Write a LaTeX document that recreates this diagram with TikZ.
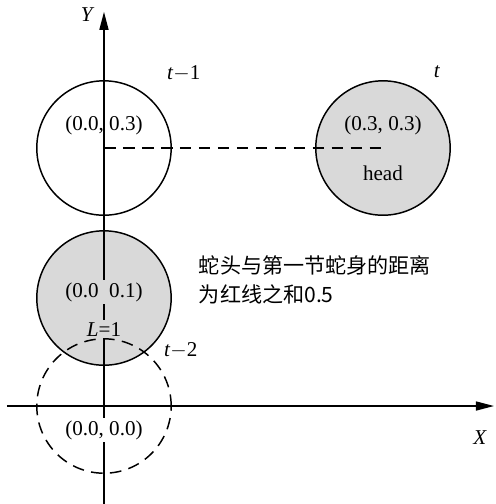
\documentclass[tikz,border=0pt]{standalone}
\usepackage{fontspec}
\setmainfont{Liberation Serif}
\newfontfamily\cjk{Noto Sans CJK SC}
\usetikzlibrary{arrows.meta}

\begin{document}
\begin{tikzpicture}[line width=0.7pt,
  seg/.style={draw,circle,minimum size=2.24cm,inner sep=0pt},
  dashpat/.style={dash pattern=on 5.5pt off 3.5pt},
  axis/.style={-{Triangle[length=3mm,width=1.5mm]}}]
\useasboundingbox (-1.733,-1.633) rectangle (6.517,6.767);
\coordinate (xs) at (-1.62,0);
\coordinate (xe) at (6.5,0);
\coordinate (ys) at (0,-1.633);
\coordinate (ye) at (0,6.57);
\node[seg,fill=gray!30] (n1) at (0,1.8) {};
\node[seg,dashpat] (n2) at (0,0) {};
\node[seg] (n0) at (0,4.3) {};
\node[seg,fill=gray!30] (head) at (4.65,4.3) {};
\draw[axis] (xs) -- (xe);
\draw[axis] (ys) -- (ye);
\draw[dashpat] (n0.center) -- (head.center);
\node (lY) at (-0.27,6.52) {\textit{Y}};
\node (lX) at (6.27,-0.53) {\textit{X}};
\node (lt1) at (1.33,5.55) {\textit{t}$-$1};
\node (lt) at (5.55,5.58) {\textit{t}};
\node (lt2) at (1.28,0.93) {\textit{t}$-$2};
\node (p0) at (0,4.68) {(0.0, 0.3)};
\node (ph) at (4.65,4.67) {(0.3, 0.3)};
\node (hd) at (4.65,3.88) {head};
\node[fill=gray!30,inner sep=1pt] (p1) at (0,1.9) {(0.0\enspace0.1)};
\node[fill=gray!30,inner sep=1pt] (lL) at (0,1.28) {\textit{L}=1};
\node[fill=white,inner sep=1pt] (p2) at (0,-0.4) {(0.0, 0.0)};
\node[anchor=north west,align=left,font=\cjk,inner sep=0pt] (note) at (1.57,2.52)
  {蛇头与第一节蛇身的距离\\[2pt]为红线之和0.5};
\end{tikzpicture}
\end{document}
